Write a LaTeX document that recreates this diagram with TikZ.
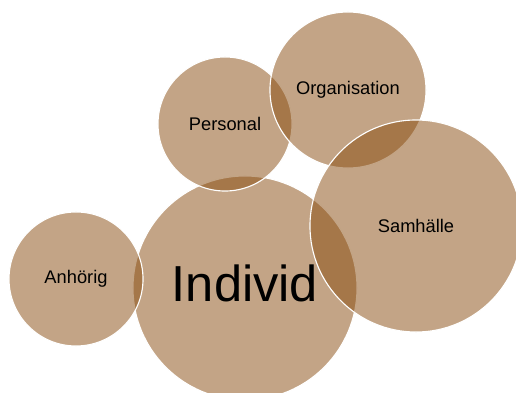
\documentclass[tikz,border=0pt]{standalone}
\usepackage{fontspec}
\setmainfont{Liberation Sans}
\definecolor{bubblebrown}{RGB}{135,74,13}
\tikzset{
  bubble/.style={circle, fill=bubblebrown, fill opacity=0.5, text opacity=1,
    draw=white, line width=0.8pt, inner sep=0pt, font=\fontsize{13}{15}\selectfont}
}
\begin{document}
\begin{tikzpicture}[x=0.025cm, y=-0.025cm]
    \useasboundingbox (0,0) rectangle (516,393);
    \clip (0,0) rectangle (516,393);
    % centre circle
    \node[bubble, minimum size=5.6cm] (individ) at (245,288) {};
    \node[font=\fontsize{36}{40}\selectfont] (individtext) at ([yshift=0.125cm]individ.center) {Individ};
    % surrounding circles
    \node[bubble, minimum size=3.35cm] (anhorig) at (76,279) {Anhörig};
    \node[bubble, minimum size=3.35cm] (personal) at (225,124) {Personal};
    \node[bubble, minimum size=3.9cm] (organisation) at (348,90) {Organisation};
    \node[bubble, minimum size=5.3cm] (samhalle) at (416,226) {Samhälle};
\end{tikzpicture}
\end{document}
